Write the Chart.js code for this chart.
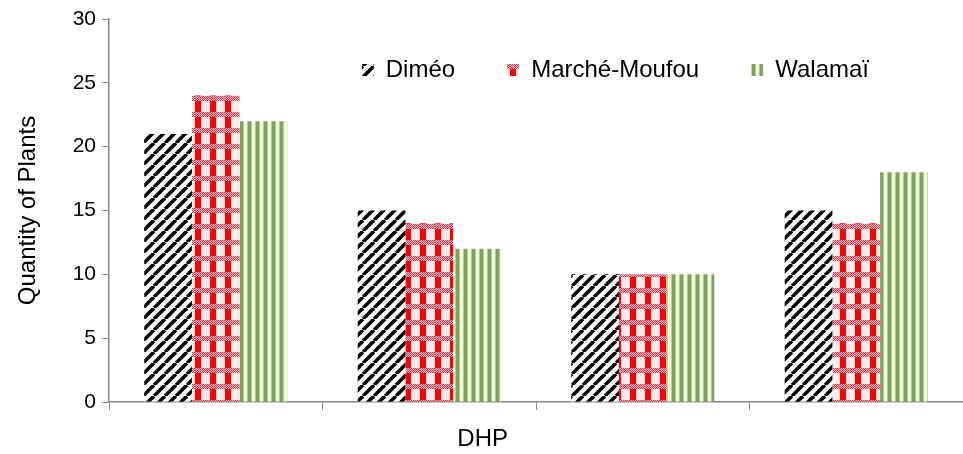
<!DOCTYPE html>
<html>
<head>
<meta charset="utf-8">
<script src="https://cdn.jsdelivr.net/npm/chart.js@4/dist/chart.umd.min.js"></script>
<style>
html,body{margin:0;padding:0;background:#fff;}
canvas{display:block;}
</style>
</head>
<body>
<canvas id="c" width="963" height="454"></canvas>
<script>
// ---- data ----
const categories = ['', '', '', ''];
const seriesNames = ['Diméo', 'Marché-Moufou', 'Walamaï'];
const dimeo = [21, 15, 10, 15];
const marcheMoufou = [24, 14, 10, 14];
const walamai = [22, 12, 10, 18];
const yTicks = [0, 5, 10, 15, 20, 25, 30];
const xTitle = 'DHP';
const yTitle = 'Quantity of Plants';

// ---- patterns ----
function makePattern(w, h, draw) {
  const cv = document.createElement('canvas');
  cv.width = w; cv.height = h;
  const g = cv.getContext('2d');
  draw(g, w, h);
  return document.getElementById('c').getContext('2d').createPattern(cv, 'repeat');
}
const diagPattern = makePattern(11, 11, (g, s) => {
  g.fillStyle = '#fff'; g.fillRect(0, 0, s, s);
  g.strokeStyle = '#000'; g.lineWidth = 3.6;
  for (const k of [-s, 0, s]) {
    g.beginPath(); g.moveTo(k, s); g.lineTo(k + s, 0); g.stroke();
  }
});
const checkPattern = makePattern(15, 16, (g, w, h) => {
  g.fillStyle = '#fff'; g.fillRect(0, 0, w, h);
  g.fillStyle = '#fde8ea'; g.fillRect(6, 0, 9, h);
  g.fillStyle = '#ff0000'; g.fillRect(0, 0, 6, h);
  for (let y = 0; y < 5; y++) {
    for (let x = 0; x < w; x++) {
      g.fillStyle = ((x + y) % 2 === 0) ? '#d83a48' : '#f3b8c0';
      g.fillRect(x, y, 1, 1);
    }
  }
});
const stripePattern = makePattern(8, 8, (g, w, h) => {
  g.fillStyle = '#f0fadc'; g.fillRect(0, 0, w, h);
  g.fillStyle = '#7f9f63'; g.fillRect(0, 0, 3, h);
  g.fillStyle = '#b5cc95'; g.fillRect(3, 0, 1, h); g.fillRect(7, 0, 1, h);
});

const FONT = "'Liberation Sans', Arial, sans-serif";
const axisColor = '#868686';

// Chart.js legend, laid over the plot area (it takes no layout height).
const legendInside = {
  id: 'legendInside',
  beforeLayout(chart) {
    const lg = chart.legend;
    if (lg && !lg._inside) {
      const fit = lg.fit;
      lg.fit = function () { fit.call(this); this.height = 0; };
      lg._inside = true;
    }
  },
  afterLayout(chart) {
    const lg = chart.legend;
    if (lg) {
      lg.right = chart.width - 42;
      lg.top = 6;
      lg.bottom = 120;
      lg.height = 114;
    }
  }
};

new Chart(document.getElementById('c'), {
  type: 'bar',
  data: {
    labels: categories,
    datasets: [
      { label: seriesNames[0], data: dimeo, backgroundColor: diagPattern, borderWidth: 0 },
      { label: seriesNames[1], data: marcheMoufou, backgroundColor: checkPattern, borderWidth: 0 },
      { label: seriesNames[2], data: walamai, backgroundColor: stripePattern, borderWidth: 0 }
    ]
  },
  plugins: [legendInside],
  options: {
    responsive: false,
    animation: false,
    layout: { padding: { top: 19, right: -6, left: 0, bottom: 0 } },
    datasets: { bar: { categoryPercentage: 0.67, barPercentage: 1.0 } },
    plugins: {
      tooltip: { enabled: false },
      legend: {
        position: 'top',
        align: 'end',
        labels: {
          boxWidth: 12, boxHeight: 12, padding: 52,
          color: '#000',
          font: { family: FONT, size: 24 }
        }
      }
    },
    scales: {
      x: {
        grid: { offset: true, drawOnChartArea: false, drawTicks: true, tickLength: 8, color: axisColor },
        border: { color: axisColor, width: 1.5 },
        ticks: { display: false },
        title: { display: true, text: xTitle + '\u00a0'.repeat(16), color: '#000', font: { family: FONT, size: 24 }, padding: { top: 16, bottom: 0 } },
        afterFit: s => { s.height = 52; }
      },
      y: {
        min: 0, max: 30,
        afterBuildTicks: s => { s.ticks = yTicks.map(v => ({ value: v })); },
        grid: { drawOnChartArea: false, drawTicks: true, tickLength: 7, color: axisColor },
        border: { color: axisColor, width: 1.5 },
        ticks: { color: '#000', padding: 6, font: { family: FONT, size: 21 } },
        title: { display: true, text: yTitle, color: '#000', font: { family: FONT, size: 24 }, padding: { top: 14, bottom: 4 } },
        afterFit: s => { s.width = 109; }
      }
    }
  }
});
</script>
</body>
</html>
